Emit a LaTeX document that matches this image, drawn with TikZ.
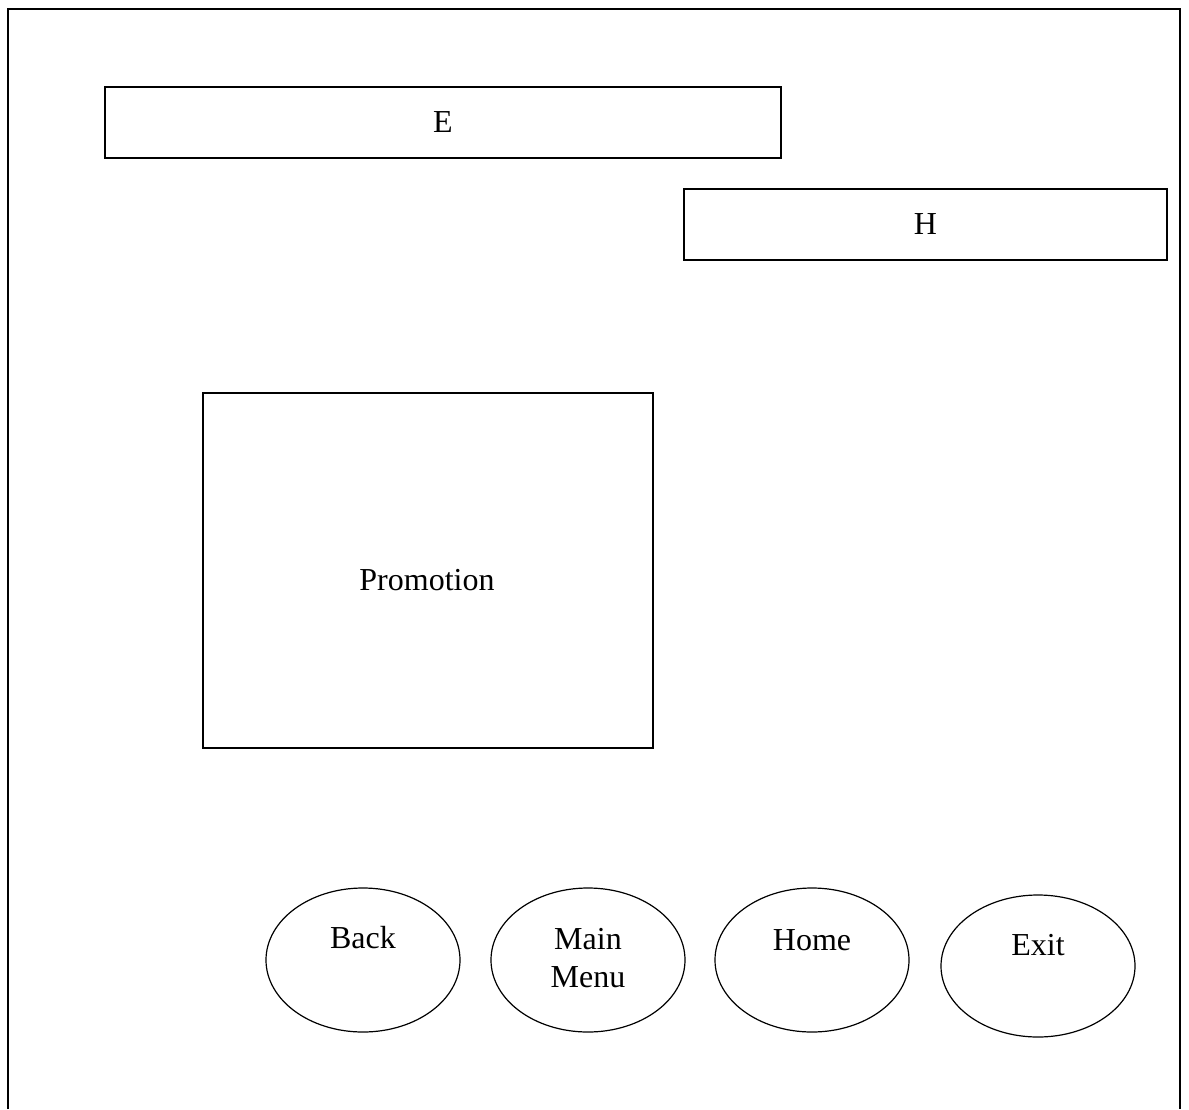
\documentclass[tikz,border=0pt]{standalone}
\usepackage{fontspec}
\setmainfont{Liberation Serif}
\usetikzlibrary{shapes.geometric}

\begin{document}
\begin{tikzpicture}[x=1pt,y=-1pt,
    every node/.style={font=\fontsize{32}{38}\selectfont},
    bar/.style={draw,line width=1.5pt,rectangle,inner sep=0pt},
    btn/.style={draw,line width=1.2pt,ellipse,inner sep=0pt,
      minimum width=194pt,minimum height=144pt}]
  \useasboundingbox (0,0) rectangle (1189,1109);
  % frame of the screen
  \coordinate (fBL) at (8,1109);
  \coordinate (fTL) at (8,9);
  \coordinate (fTR) at (1180,9);
  \coordinate (fBR) at (1180,1109);
  \draw[line width=1.5pt] (fBL) -- (fTL) -- (fTR) -- (fBR);
  % top bars
  \node[bar,minimum width=676pt,minimum height=71pt] (eBar) at (443,122.5) {E};
  \node[bar,minimum width=483pt,minimum height=71pt] (hBar) at (925.5,224.5) {H};
  % promotion area
  \node[bar,minimum width=450pt,minimum height=355pt] (promo) at (428,570.5) {};
  \node (promoText) at (427,580) {Promotion};
  % buttons
  \node[btn,label={[yshift=22pt]center:Back}] (back) at (363,960) {};
  \node[btn,label={[yshift=2pt,align=center]center:Main\\Menu}] (mainMenu) at (588,960) {};
  \node[btn,label={[yshift=20pt]center:Home}] (home) at (812,960) {};
  \node[btn,minimum height=142pt,label={[yshift=21pt]center:Exit}] (exit) at (1038,966) {};
\end{tikzpicture}
\end{document}
